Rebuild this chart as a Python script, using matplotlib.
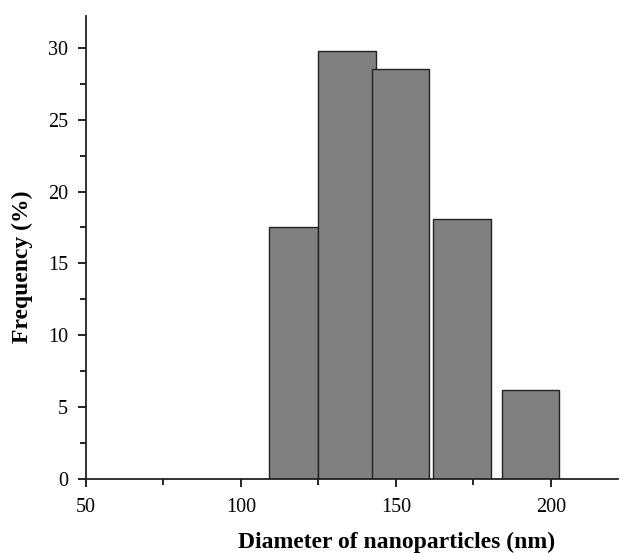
import matplotlib as mpl
mpl.use('Agg')
import matplotlib.pyplot as plt
from matplotlib.ticker import MultipleLocator

# Histogram bins (nm) and frequencies (%)
bin_left = [109.0, 125.0, 142.2, 161.8, 184.1]
bin_right = [124.8, 143.4, 160.6, 180.5, 202.6]
frequency = [17.5, 29.8, 28.5, 18.1, 6.2]

xlabel = 'Diameter of nanoparticles (nm)'
ylabel = 'Frequency (%)'

plt.rcParams['font.family'] = ['Liberation Serif', 'DejaVu Serif']

fig = plt.figure(figsize=(6.2, 5.53), dpi=100)
ax = fig.add_axes([0.1387, 0.1338, 0.858, 0.837])

widths = [r - l for l, r in zip(bin_left, bin_right)]
ax.bar(bin_left, frequency, width=widths, align='edge',
       color='#808080', edgecolor='#222222', linewidth=1.0)

ax.set_xlim(50, 221.6)
ax.set_ylim(0, 32.2)
ax.xaxis.set_major_locator(MultipleLocator(50))
ax.xaxis.set_minor_locator(MultipleLocator(25))
ax.yaxis.set_major_locator(MultipleLocator(5))
ax.yaxis.set_minor_locator(MultipleLocator(2.5))
ax.tick_params(which='major', direction='out', length=6, width=1.2, labelsize=14.5)
ax.tick_params(axis='x', which='major', pad=7.5)
ax.tick_params(axis='y', which='major', pad=7)
ax.tick_params(which='minor', direction='out', length=4, width=1.2)

for side in ['top', 'right']:
    ax.spines[side].set_visible(False)
for side in ['left', 'bottom']:
    ax.spines[side].set_linewidth(1.3)
    ax.spines[side].set_color('#222222')

ax.set_xlabel(xlabel, fontsize=17, fontweight='bold')
ax.set_ylabel(ylabel, fontsize=17, fontweight='bold')
ax.xaxis.set_label_coords(0.583, -0.114)
ax.yaxis.set_label_coords(-0.1, 0.458)

fig.savefig('out.png', dpi=100)
